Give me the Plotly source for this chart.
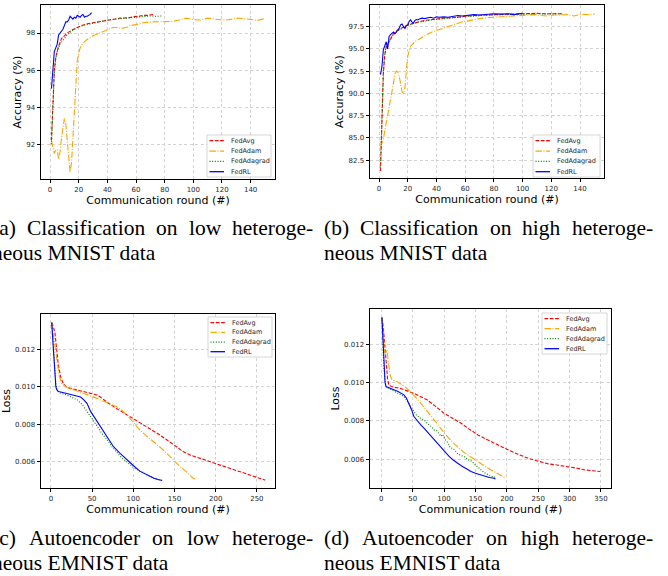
import plotly.graph_objects as go

W, H = 668, 576
SERIES = ["FedAvg", "FedAdam", "FedAdagrad", "FedRL"]

# ---------------- (a) low heterogeneous MNIST: accuracy ----------------
a_avg_x = [1, 2, 3, 4, 5, 6, 8, 10, 12, 15, 19, 22, 26, 30, 35, 42, 49, 55, 58, 62, 65, 68, 71, 72]
a_avg_y = [92.2, 94.0, 96.0, 96.7, 97.1, 97.3, 97.7, 97.85, 98.0, 98.15, 98.3, 98.4, 98.5, 98.55, 98.6,
           98.7, 98.8, 98.82, 98.88, 98.9, 98.95, 98.95, 99.0, 99.0]
a_adam_x = [1, 2, 3, 4, 5, 6, 7, 8, 9, 10, 11, 12, 13, 14, 15, 16, 17, 18, 19, 20, 21, 23, 25, 28, 30, 33,
            36, 40, 44, 47, 50, 53, 56, 60, 65, 70, 75, 80, 85, 90, 95, 100, 105, 110, 115, 120, 125, 130,
            135, 140, 145, 150]
a_adam_y = [92.2, 91.9, 91.5, 91.7, 91.7, 91.2, 91.6, 92.3, 93.0, 93.4, 93.1, 92.2, 91.2, 90.5, 91.0, 92.3,
            94.0, 95.5, 96.5, 96.9, 97.2, 97.45, 97.6, 97.75, 97.85, 97.95, 98.05, 98.15, 98.3, 98.3, 98.25,
            98.3, 98.4, 98.45, 98.55, 98.6, 98.6, 98.58, 98.62, 98.7, 98.8, 98.72, 98.7, 98.8, 98.75, 98.7,
            98.72, 98.8, 98.78, 98.75, 98.68, 98.78]
a_ada_x = [1, 2, 3, 4, 5, 7, 9, 12, 15, 19, 23, 28, 33, 40, 46, 52, 58, 64, 70, 75, 78]
a_ada_y = [92.0, 93.8, 95.8, 96.6, 97.0, 97.4, 97.6, 97.9, 98.1, 98.3, 98.4, 98.5, 98.6, 98.7, 98.75, 98.8,
           98.85, 98.9, 98.92, 98.9, 98.92]
a_rl_x = [1, 2, 3, 4, 5, 6, 7, 8, 9, 10, 11, 12, 13, 14, 15, 16, 17, 18, 19, 20, 21, 22, 23, 24, 25, 26,
          27, 28, 29]
a_rl_y = [95.0, 96.3, 97.0, 97.2, 97.4, 97.9, 98.0, 98.15, 98.2, 98.4, 98.6, 98.6, 98.7, 98.9, 98.8, 98.75,
          98.85, 98.8, 98.95, 98.9, 98.85, 98.95, 99.0, 98.85, 98.9, 98.9, 98.95, 99.0, 99.1]

# ---------------- (b) high heterogeneous MNIST: accuracy ----------------
b_avg_x = [1, 2, 3, 4, 5, 6, 7, 8, 9, 10, 12, 14, 16, 18, 20, 24, 28, 32, 36, 40, 45, 50, 55, 60, 66, 72,
           80, 88, 95, 100, 105, 110, 115, 120, 125, 128]
b_avg_y = [81.3, 87.0, 92.2, 94.3, 95.2, 95.5, 95.8, 96.2, 96.5, 96.7, 97.0, 97.2, 97.4, 97.55, 97.7, 97.9,
           98.05, 98.2, 98.3, 98.35, 98.45, 98.5, 98.6, 98.65, 98.75, 98.8, 98.85, 98.85, 98.9, 98.92,
           98.95, 99.0, 98.95, 98.98, 98.95, 98.95]
b_adam_x = [1, 2, 3, 4, 5, 6, 7, 8, 9, 10, 11, 12, 13, 14, 15, 16, 17, 18, 19, 20, 22, 25, 29, 33, 38, 43,
            48, 53, 57, 62, 66, 70, 75, 80, 85, 89, 95, 99, 104, 108, 113, 117, 122, 127, 131, 136, 140,
            145, 150]
b_adam_y = [84.0, 84.5, 84.8, 85.8, 86.6, 87.4, 88.3, 89.3, 90.2, 91.1, 92.2, 92.5, 92.4, 92.0, 91.2, 90.2,
            90.0, 90.6, 92.5, 94.2, 95.3, 95.8, 96.2, 96.6, 96.97, 97.2, 97.5, 97.75, 98.0, 98.15, 98.3,
            98.4, 98.5, 98.55, 98.55, 98.6, 98.65, 98.7, 98.75, 98.85, 98.75, 98.7, 98.8, 98.85, 98.85,
            98.7, 98.9, 98.85, 98.9]
b_ada_x = [1, 2, 3, 4, 5, 6, 8, 10, 12, 14, 16, 18, 20, 24, 28, 32, 36, 40, 45, 50, 55, 60, 66, 72, 80, 88,
           95, 100, 105, 110, 115, 120, 127]
b_ada_y = [81.8, 87.5, 92.5, 94.5, 95.3, 95.6, 96.1, 96.6, 96.9, 97.1, 97.3, 97.5, 97.6, 97.85, 98.0, 98.15,
           98.25, 98.3, 98.4, 98.5, 98.55, 98.6, 98.7, 98.75, 98.8, 98.85, 98.85, 98.9, 98.92, 98.95,
           98.92, 98.95, 98.95]
b_rl_x = [1, 2, 3, 4, 5, 6, 7, 8, 9, 10, 11, 12, 13, 14, 15, 16, 17, 18, 19, 20, 21, 22, 23, 24, 25, 26,
          27, 28, 30, 32, 34, 36, 38, 40, 42, 45, 48, 52, 55, 58, 62, 66, 70, 75, 80, 85, 90, 94, 97, 100]
b_rl_y = [92.1, 93.0, 94.9, 95.5, 95.8, 95.0, 96.4, 96.6, 96.8, 96.9, 96.7, 96.9, 97.1, 97.3, 97.7, 97.8,
          97.5, 97.3, 97.6, 97.7, 98.1, 98.25, 98.0, 97.9, 98.2, 98.3, 98.25, 98.35, 98.45, 98.4, 98.5,
          98.55, 98.45, 98.6, 98.55, 98.6, 98.55, 98.7, 98.75, 98.7, 98.8, 98.85, 98.8, 98.9, 98.95, 98.9,
          98.95, 98.85, 98.9, 99.0]

# ---------------- (c) low heterogeneous EMNIST: loss ----------------
c_avg_x = [1, 3, 5, 7, 9, 12, 15, 19, 25, 32, 40, 48, 56, 60, 64, 70, 76, 86, 96, 106, 117, 129, 141, 151,
           161, 171, 181, 191, 201, 212, 222, 234, 246, 256, 260]
c_avg_y = [0.01342, 0.0132, 0.01285, 0.0121, 0.01116, 0.0105, 0.01018, 0.00997, 0.0099, 0.00983, 0.00975,
           0.00966, 0.00956, 0.00945, 0.0093, 0.00912, 0.00894, 0.00867, 0.0084, 0.00815, 0.00787,
           0.00752, 0.00716, 0.00683, 0.00653, 0.00633, 0.00618, 0.00602, 0.00587, 0.00571, 0.00555,
           0.00537, 0.0052, 0.00508, 0.00502]
c_adam_x = [1, 3, 5, 8, 10, 13, 17, 20, 30, 40, 50, 60, 70, 80, 86, 92, 100, 108, 116, 125, 133, 141, 149,
            157, 165, 172, 177]
c_adam_y = [0.01342, 0.0128, 0.01232, 0.01116, 0.0106, 0.01018, 0.01003, 0.00995, 0.0098, 0.00965,
            0.00948, 0.0093, 0.00912, 0.00894, 0.00875, 0.0085, 0.0081, 0.00769, 0.00738, 0.00707,
            0.00676, 0.00644, 0.0061, 0.00573, 0.00545, 0.00515, 0.00503]
c_ada_x = [1, 2, 3, 4, 5, 6, 7, 9, 12, 15, 19, 25, 32, 38, 44, 50, 56, 62, 68, 74, 80, 86, 92, 100, 108,
           116, 125, 130, 135]
c_ada_y = [0.01342, 0.0128, 0.01196, 0.0112, 0.0106, 0.01018, 0.00995, 0.00974, 0.00966, 0.0096, 0.00956,
           0.00945, 0.0093, 0.00905, 0.0087, 0.0083, 0.0079, 0.0075, 0.0072, 0.0068, 0.0065, 0.0062,
           0.006, 0.0057, 0.0055, 0.0053, 0.00512, 0.00505, 0.00501]
c_rl_x = [1, 2, 3, 4, 5, 6, 7, 9, 12, 15, 19, 25, 32, 36, 40, 44, 48, 54, 60, 68, 76, 84, 92, 100, 108,
          116, 125, 130, 135]
c_rl_y = [0.01342, 0.0127, 0.01196, 0.0111, 0.01036, 0.01, 0.00985, 0.00975, 0.00972, 0.00969, 0.00965,
          0.0096, 0.00952, 0.00945, 0.0093, 0.0091, 0.0087, 0.0083, 0.0079, 0.0074, 0.0068, 0.00645,
          0.0061, 0.0058, 0.0055, 0.0053, 0.00512, 0.00505, 0.005]

# ---------------- (d) high heterogeneous EMNIST: loss ----------------
d_avg_x = [1, 2, 4, 6, 8, 10, 12, 16, 22, 30, 40, 52, 62, 73, 86, 100, 113, 127, 140, 154, 167, 180, 191,
           202, 218, 234, 250, 266, 282, 298, 312, 325, 337, 349]
d_avg_y = [0.01339, 0.0132, 0.01257, 0.0117, 0.01083, 0.0102, 0.00988, 0.0098, 0.00975, 0.0097, 0.00958,
           0.00944, 0.00928, 0.0091, 0.00877, 0.0084, 0.00815, 0.00788, 0.00757, 0.00727, 0.00705,
           0.00683, 0.00665, 0.00649, 0.00626, 0.00605, 0.0059, 0.00576, 0.00569, 0.00562, 0.00553,
           0.00544, 0.0054, 0.00536]
d_adam_x = [1, 2, 4, 6, 8, 9, 10, 12, 14, 17, 21, 25, 30, 36, 41, 47, 52, 57, 63, 68, 74, 79, 84, 90, 95,
            100, 105, 111, 116, 121, 127, 132, 138, 143, 148, 155, 161, 168, 175, 182, 188, 195, 199]
d_adam_y = [0.01339, 0.0128, 0.01205, 0.01153, 0.0116, 0.0117, 0.0114, 0.01083, 0.0104, 0.01014, 0.0101,
            0.01005, 0.00995, 0.0098, 0.0097, 0.0095, 0.00935, 0.00915, 0.00892, 0.00872, 0.0085,
            0.00828, 0.00805, 0.0078, 0.0076, 0.00738, 0.00718, 0.00698, 0.00682, 0.00665, 0.00649,
            0.00635, 0.00622, 0.00608, 0.00597, 0.00583, 0.0057, 0.00557, 0.00544, 0.00532, 0.00521,
            0.0051, 0.00501]
d_ada_x = [1, 2, 3, 4, 6, 8, 12, 16, 20, 26, 32, 36, 40, 44, 48, 52, 56, 60, 64, 68, 72, 76, 80, 84, 88,
           92, 95, 98, 101, 105, 110, 115, 121, 127, 133, 138, 144, 150, 155, 159, 164, 170, 175, 178, 183]
d_ada_y = [0.01339, 0.0125, 0.0116, 0.01083, 0.0101, 0.00976, 0.0097, 0.00962, 0.00953, 0.00945, 0.00935,
           0.00927, 0.0091, 0.0089, 0.00872, 0.00857, 0.0083, 0.0082, 0.0081, 0.00805, 0.0079, 0.0078,
           0.0077, 0.00753, 0.0075, 0.00735, 0.0072, 0.0073, 0.00705, 0.0069, 0.0066, 0.00655, 0.00631,
           0.0062, 0.00612, 0.00597, 0.0059, 0.0057, 0.00555, 0.00544, 0.0053, 0.0052, 0.0051, 0.0051,
           0.00501]
d_rl_x = [1, 2, 3, 4, 6, 7.5, 10, 15, 20, 26, 32, 36, 40, 44, 48, 52, 56, 60, 64, 68, 74, 80, 84, 90, 96,
          100, 108, 115, 121, 128, 135, 143, 150, 157, 164, 172, 178, 182]
d_rl_y = [0.01339, 0.0125, 0.0116, 0.01083, 0.01, 0.00979, 0.00975, 0.0097, 0.00963, 0.00955, 0.00945,
          0.00936, 0.0092, 0.00892, 0.0086, 0.00823, 0.00805, 0.0079, 0.00775, 0.00762, 0.0074, 0.00718,
          0.00701, 0.0068, 0.0066, 0.0064, 0.00615, 0.00595, 0.0058, 0.00565, 0.00552, 0.00536, 0.00527,
          0.0052, 0.0051, 0.00505, 0.00502, 0.00497]

X_TITLE = "Communication round (#)"
Y_TITLES = ["Accuracy (%)", "Accuracy (%)", "Loss", "Loss"]
CAPTIONS = [
    ["(a) Classification on low heteroge-", "neous MNIST data"],
    ["(b) Classification on high heteroge-", "neous MNIST data"],
    ["(c) Autoencoder on low heteroge-", "neous EMNIST data"],
    ["(d) Autoencoder on high heteroge-", "neous EMNIST data"],
]

DATA = [
    [(a_avg_x, a_avg_y), (a_adam_x, a_adam_y), (a_ada_x, a_ada_y), (a_rl_x, a_rl_y)],
    [(b_avg_x, b_avg_y), (b_adam_x, b_adam_y), (b_ada_x, b_ada_y), (b_rl_x, b_rl_y)],
    [(c_avg_x, c_avg_y), (c_adam_x, c_adam_y), (c_ada_x, c_ada_y), (c_rl_x, c_rl_y)],
    [(d_avg_x, d_avg_y), (d_adam_x, d_adam_y), (d_ada_x, d_ada_y), (d_rl_x, d_rl_y)],
]

STYLE = {
    "FedAvg": dict(color="#ff0000", dash="3.7px,1.6px", width=1.1),
    "FedAdam": dict(color="#ffa500", dash="6.4px,1.6px,1px,1.6px", width=1.1),
    "FedAdagrad": dict(color="#008000", dash="1px,1.65px", width=1.1),
    "FedRL": dict(color="#0000ff", dash="solid", width=1.1),
}

# layout (pixels)
PANELS = [
    dict(box=(41, 5, 275, 179), xr=[-6.3, 157.0], yr=[90.13, 99.51], xd=20, y0=90, yd=2, yf="",
         leg=(207, 135, 271, 177), cap=(-9, 312, 228, 253)),
    dict(box=(370, 5, 604, 178), xr=[-6.3, 156.7], yr=[80.5, 99.93], xd=20, y0=82.5, yd=2.5, yf=".1f",
         leg=(533, 135, 600, 177), cap=(323, 652, 228, 253)),
    dict(box=(41, 314, 275, 488), xr=[-12.0, 272.0], yr=[0.0046, 0.01388], xd=50, y0=0.006, yd=0.002,
         yf=".3f", leg=(208, 317, 272, 357), cap=(-9, 312, 538, 563)),
    dict(box=(370, 309, 611, 488), xr=[-18.0, 366.0], yr=[0.0045, 0.01384], xd=50, y0=0.006, yd=0.002,
         yf=".3f", leg=(542, 313, 607, 354), cap=(323, 652, 538, 563)),
]

def fx(x):
    return x / W

def fy(y):
    return 1 - y / H

# Times metrics (1/1000 em) for caption justification
TW = {'(': 333, ')': 333, 'a': 444, 'b': 500, 'c': 444, 'd': 500, 'e': 444, 'f': 333, 'g': 500,
      'h': 500, 'i': 278, 'l': 278, 'n': 500, 'o': 500, 'r': 333, 's': 389, 't': 278, 'u': 500,
      'w': 722, 'y': 500, 'C': 667, 'A': 722, '-': 333}
CAP_SIZE = 21.5
CAP_FONT = dict(family="Liberation Serif, Times New Roman, serif", size=CAP_SIZE, color="black")

fig = go.Figure()
shapes = []
annotations = []
layout = dict(width=W, height=H, margin=dict(l=0, r=0, t=0, b=0), paper_bgcolor="white",
              plot_bgcolor="white", showlegend=False)

tickfont = dict(family="DejaVu Sans", size=7, color="#262626")
titlefont = dict(family="DejaVu Sans", size=11, color="black")

for i, p in enumerate(PANELS):
    k = "" if i == 0 else str(i + 1)
    x0, y0, x1, y1 = p["box"]
    common = dict(showline=True, mirror=True, linecolor="black", linewidth=0.9, ticks="outside",
                  ticklen=3.5, tickwidth=0.8, tickcolor="black", tickfont=tickfont, showgrid=True,
                  gridcolor="#d3d3d3", gridwidth=0.8, griddash="3px,2.5px", zeroline=False)
    layout["xaxis" + k] = dict(domain=[fx(x0), fx(x1)], anchor="y" + k, range=p["xr"], tick0=0,
                               dtick=p["xd"], title=dict(text=X_TITLE, font=titlefont, standoff=1),
                               **common)
    layout["yaxis" + k] = dict(domain=[fy(y1), fy(y0)], anchor="x" + k, range=p["yr"], tick0=p["y0"],
                               dtick=p["yd"], tickformat=p["yf"],
                               title=dict(text=Y_TITLES[i], font=titlefont, standoff=2), **common)
    for name, (xs, ys) in zip(SERIES, DATA[i]):
        st = STYLE[name]
        fig.add_trace(go.Scatter(x=xs, y=ys, mode="lines", name=name, xaxis="x" + k, yaxis="y" + k,
                                 line=dict(color=st["color"], dash=st["dash"], width=st["width"]),
                                 showlegend=False))
    # legend box
    lx0, ly0, lx1, ly1 = p["leg"]
    shapes.append(dict(type="rect", xref="paper", yref="paper", x0=fx(lx0), x1=fx(lx1), y0=fy(ly1),
                       y1=fy(ly0), fillcolor="rgba(255,255,255,0.85)",
                       line=dict(color="#cccccc", width=0.8), layer="above"))
    step = (ly1 - ly0 - 11) / 3.0
    for j, name in enumerate(SERIES):
        st = STYLE[name]
        ry = ly0 + 5.7 + j * step
        shapes.append(dict(type="line", xref="paper", yref="paper", x0=fx(lx0 + 2.5), x1=fx(lx0 + 17),
                           y0=fy(ry), y1=fy(ry), layer="above",
                           line=dict(color=st["color"], dash=st["dash"], width=1.3)))
        annotations.append(dict(text=name, xref="paper", yref="paper", x=fx(lx0 + 22), y=fy(ry),
                                xanchor="left", yanchor="middle", showarrow=False,
                                font=dict(family="DejaVu Sans", size=6.5, color="#262626")))
    # caption: first line justified, second line flush left
    cl, cr, cy1, cy2 = p["cap"]
    words = CAPTIONS[i][0].split(" ")
    widths = [sum(TW.get(ch, 500) for ch in w) / 1000.0 * CAP_SIZE for w in words]
    gap = (cr - cl - sum(widths)) / (len(words) - 1)
    xpos = cl
    for w, wd in zip(words, widths):
        annotations.append(dict(text=w, xref="paper", yref="paper", x=fx(xpos), y=fy(cy1),
                                xanchor="left", yanchor="middle", showarrow=False, font=CAP_FONT,
                                borderpad=0))
        xpos += wd + gap
    annotations.append(dict(text=CAPTIONS[i][1], xref="paper", yref="paper", x=fx(cl), y=fy(cy2),
                            xanchor="left", yanchor="middle", showarrow=False, font=CAP_FONT,
                            borderpad=0))

layout["shapes"] = shapes
layout["annotations"] = annotations
fig.update_layout(**layout)
fig.write_html("out.html", config={"displayModeBar": False},
               post_script="document.body.style.margin='0';document.body.style.overflow='hidden';")
